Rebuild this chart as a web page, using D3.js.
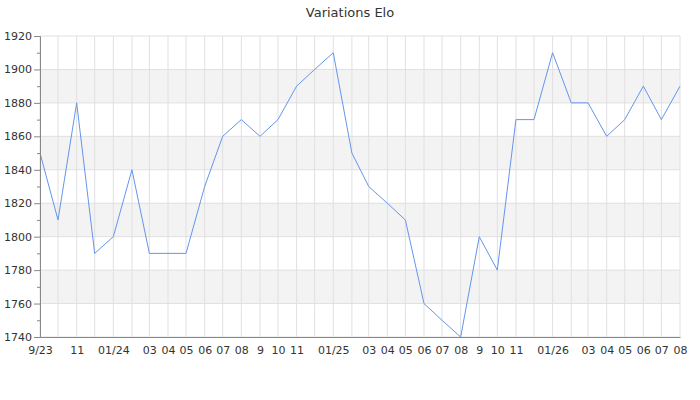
<!DOCTYPE html>
<html>
<head>
<meta charset="utf-8">
<script src="https://cdn.jsdelivr.net/npm/d3@7"></script>
<style>
  body { margin: 0; background: #fff; }
  text { font-family: "DejaVu Sans", sans-serif; }
</style>
</head>
<body>
<div id="chart"></div>
<script>
// monthly points, sep 2023 .. aug 2026
var months = ["2023-09","2023-10","2023-11","2023-12","2024-01","2024-02","2024-03","2024-04",
  "2024-05","2024-06","2024-07","2024-08","2024-09","2024-10","2024-11","2024-12","2025-01",
  "2025-02","2025-03","2025-04","2025-05","2025-06","2025-07","2025-08","2025-09","2025-10",
  "2025-11","2025-12","2026-01","2026-02","2026-03","2026-04","2026-05","2026-06","2026-07","2026-08"]
var elo = [1850,1810,1880,1790,1800,1840,1790,1790,1790,1830,1860,1870,1860,1870,1890,1900,1910,
  1850,1830,1820,1810,1760,1750,1740,1800,1780,1870,1870,1910,1880,1880,1860,1870,1890,1870,1890]

var tickMonths = ["2023-09","2023-11","2024-01","2024-03","2024-04","2024-05","2024-06","2024-07",
  "2024-08","2024-09","2024-10","2024-11","2025-01","2025-03","2025-04","2025-05","2025-06",
  "2025-07","2025-08","2025-09","2025-10","2025-11","2026-01","2026-03","2026-04","2026-05",
  "2026-06","2026-07","2026-08"]
var tickLabels = ["9/23","11","01/24","03","04","05","06","07","08","9","10","11","01/25",
  "03","04","05","06","07","08","9","10","11","01/26","03","04","05","06","07","08"]
var yTicks = [1740,1760,1780,1800,1820,1840,1860,1880,1900,1920]
var bands = [[1760,1780],[1800,1820],[1840,1860],[1880,1900]]

var width = 700, height = 400
var margin = { top: 36, right: 20, bottom: 63, left: 40 }
var w = width - margin.left - margin.right
var h = height - margin.top - margin.bottom

var parse = d3.timeParse("%Y-%m")
var data = months.map((m, i) => ({ date: parse(m), value: elo[i] }))

var svg = d3.select("#chart").append("svg")
    .attr("width", width)
    .attr("height", height)

svg.append("text")
    .attr("x", width / 2)
    .attr("y", 17)
    .attr("text-anchor", "middle")
    .style("font-size", "13px")
    .style("fill", "#333")
    .text("Variations Elo")

var g = svg.append("g")
    .attr("transform", `translate(${margin.left}, ${margin.top})`)

var x = d3.scaleTime()
    .domain(d3.extent(data, d => d.date))
    .range([0, w])

var y = d3.scaleLinear()
    .domain([1740, 1920])
    .range([h, 0])

// alternating bands
g.selectAll(".band")
    .data(bands)
    .enter()
    .append("rect")
    .attr("x", 0)
    .attr("width", w)
    .attr("y", d => y(d[1]))
    .attr("height", d => y(d[0]) - y(d[1]))
    .style("fill", "#f3f3f3")

// horizontal grid
g.selectAll(".hgrid")
    .data(yTicks)
    .enter()
    .append("line")
    .attr("x1", 0).attr("x2", w)
    .attr("y1", d => y(d)).attr("y2", d => y(d))
    .style("stroke", "#e0e0e0")

// vertical grid, one per month
g.selectAll(".vgrid")
    .data(data)
    .enter()
    .append("line")
    .attr("x1", d => x(d.date)).attr("x2", d => x(d.date))
    .attr("y1", 0).attr("y2", h)
    .style("stroke", "#e0e0e0")

var line = d3.line()
    .x(d => x(d.date))
    .y(d => y(d.value))

g.append("path")
    .datum(data)
    .attr("d", line)
    .style("fill", "none")
    .style("stroke", "#6495ed")
    .style("stroke-width", 1)

// y axis with minor ticks
var yAxis = g.append("g")
    .call(d3.axisLeft(y).tickValues(yTicks).tickSize(6).tickPadding(2).tickFormat(d3.format("d")))
g.append("g")
    .call(d3.axisLeft(y).tickValues(d3.range(1750, 1920, 20)).tickSize(3).tickFormat(""))
    .call(a => a.select(".domain").remove())
    .selectAll("line").style("stroke", "#888")
yAxis.select(".domain").style("stroke", "#888")
yAxis.selectAll(".tick line").style("stroke", "#888")
yAxis.selectAll("text").style("font-size", "11px").style("fill", "#333")

var xAxis = g.append("g")
    .attr("transform", `translate(0,${h})`)
    .call(d3.axisBottom(x)
        .tickValues(tickMonths.map(parse))
        .tickSize(0)
        .tickPadding(9)
        .tickFormat((d, i) => tickLabels[i]))
xAxis.select(".domain").style("stroke", "#888")
xAxis.selectAll("text").style("font-size", "11px").style("fill", "#333")
</script>
</body>
</html>
